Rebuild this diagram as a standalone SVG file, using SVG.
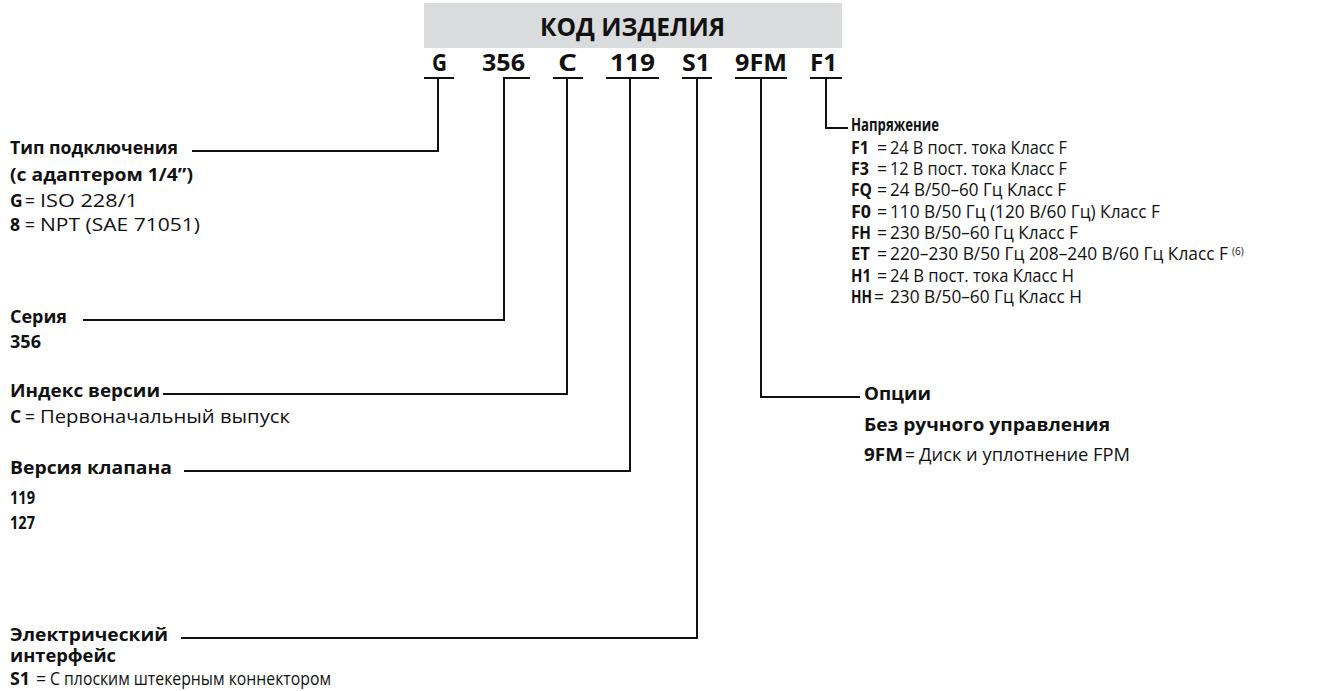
<svg xmlns="http://www.w3.org/2000/svg" width="1343" height="691" viewBox="0 0 1343 691">
<style>
text{font-family:"Open Sans","Noto Sans","Liberation Sans",sans-serif;fill:#111}
.t{font-size:25px;font-weight:bold}
.c{font-size:23px;font-weight:bold}
.b{font-size:17.5px;font-weight:bold}
.r{font-size:17.5px}
.s{font-size:10px}
.ul{stroke:#111;stroke-width:2;fill:none}
.ln{stroke:#111;stroke-width:2;fill:none}
</style>
<rect width="1343" height="691" fill="#fff"/>
<g id="header">
<rect x="424" y="3" width="418" height="45" fill="#d9dbdc"/>
<text class="t" x="540" y="36" textLength="185" lengthAdjust="spacingAndGlyphs">КОД ИЗДЕЛИЯ</text>
</g>
<g id="code-G"><text class="c" x="432" y="71" textLength="15" lengthAdjust="spacingAndGlyphs">G</text><path class="ul" d="M424 78H454"/></g>
<g id="code-356"><text class="c" x="482" y="71" textLength="43" lengthAdjust="spacingAndGlyphs">356</text><path class="ul" d="M503 78H530"/></g>
<g id="code-C"><text class="c" x="558" y="71" textLength="19" lengthAdjust="spacingAndGlyphs">C</text><path class="ul" d="M553 78H583"/></g>
<g id="code-119"><text class="c" x="610" y="71" textLength="45" lengthAdjust="spacingAndGlyphs">119</text><path class="ul" d="M606 78H659"/></g>
<g id="code-S1"><text class="c" x="682" y="71" textLength="28" lengthAdjust="spacingAndGlyphs">S1</text><path class="ul" d="M682 78H712"/></g>
<g id="code-9FM"><text class="c" x="735" y="71" textLength="52" lengthAdjust="spacingAndGlyphs">9FM</text><path class="ul" d="M735 78H787"/></g>
<g id="code-F1"><text class="c" x="810" y="71" textLength="27" lengthAdjust="spacingAndGlyphs">F1</text><path class="ul" d="M810 78H842"/></g>

<g id="connectors">
<path class="ln" d="M438 78V151H192"/>
<path class="ln" d="M504 78V320H83"/>
<path class="ln" d="M567 78V394H163"/>
<path class="ln" d="M630 78V471H184"/>
<path class="ln" d="M697 78V638H181"/>
<path class="ln" d="M761 78V397H860"/>
<path class="ln" d="M826 78V128H848"/>
</g>

<g id="conn-type">
<text class="b" x="10" y="154" textLength="168" lengthAdjust="spacingAndGlyphs">Тип подключения</text>
<text class="b" x="10" y="181" textLength="183" lengthAdjust="spacingAndGlyphs">(с адаптером 1/4”)</text>
<text class="b" x="10" y="207">G</text><text class="r" x="25" y="207">=</text><text class="r" x="40" y="207" textLength="98" lengthAdjust="spacingAndGlyphs">ISO 228/1</text>
<text class="b" x="10" y="231">8</text><text class="r" x="25" y="231">=</text><text class="r" x="40" y="231" textLength="160" lengthAdjust="spacingAndGlyphs">NPT (SAE 71051)</text>
</g>
<g id="series">
<text class="b" x="10" y="323" textLength="57" lengthAdjust="spacingAndGlyphs">Серия</text>
<text class="b" x="10" y="348" textLength="31" lengthAdjust="spacingAndGlyphs">356</text>
</g>
<g id="revision">
<text class="b" x="10" y="397" textLength="150" lengthAdjust="spacingAndGlyphs">Индекс версии</text>
<text class="b" x="10" y="423">C</text><text class="r" x="25" y="423">=</text><text class="r" x="40" y="423" textLength="250" lengthAdjust="spacingAndGlyphs">Первоначальный выпуск</text>
</g>
<g id="valve">
<text class="b" x="10" y="474" textLength="162" lengthAdjust="spacingAndGlyphs">Версия клапана</text>
<text class="b" x="10" y="504" textLength="25" lengthAdjust="spacingAndGlyphs">119</text>
<text class="b" x="10" y="529" textLength="25" lengthAdjust="spacingAndGlyphs">127</text>
</g>
<g id="electrical">
<text class="b" x="10" y="641" textLength="158" lengthAdjust="spacingAndGlyphs">Электрический</text>
<text class="b" x="10" y="662" textLength="106" lengthAdjust="spacingAndGlyphs">интерфейс</text>
<text class="b" x="10" y="685" textLength="20" lengthAdjust="spacingAndGlyphs">S1</text><text class="r" x="36" y="685">=</text><text class="r" x="50" y="685" textLength="281" lengthAdjust="spacingAndGlyphs">С плоским штекерным коннектором</text>
</g>
<g id="voltage">
<text class="b" x="851" y="131" textLength="88" lengthAdjust="spacingAndGlyphs">Напряжение</text>
<text class="b" x="851" y="154" textLength="18" lengthAdjust="spacingAndGlyphs">F1</text><text class="r" x="877" y="154">=</text><text class="r" x="890" y="154" textLength="177" lengthAdjust="spacingAndGlyphs">24 В пост. тока Класс F</text>
<text class="b" x="851" y="175" textLength="18" lengthAdjust="spacingAndGlyphs">F3</text><text class="r" x="877" y="175">=</text><text class="r" x="890" y="175" textLength="177" lengthAdjust="spacingAndGlyphs">12 В пост. тока Класс F</text>
<text class="b" x="851" y="196" textLength="21" lengthAdjust="spacingAndGlyphs">FQ</text><text class="r" x="877" y="196">=</text><text class="r" x="890" y="196" textLength="176" lengthAdjust="spacingAndGlyphs">24 В/50–60 Гц Класс F</text>
<text class="b" x="851" y="218" textLength="20" lengthAdjust="spacingAndGlyphs">F0</text><text class="r" x="877" y="218">=</text><text class="r" x="890" y="218" textLength="270" lengthAdjust="spacingAndGlyphs">110 В/50 Гц (120 В/60 Гц) Класс F</text>
<text class="b" x="851" y="239" textLength="20" lengthAdjust="spacingAndGlyphs">FH</text><text class="r" x="877" y="239">=</text><text class="r" x="890" y="239" textLength="188" lengthAdjust="spacingAndGlyphs">230 В/50–60 Гц Класс F</text>
<text class="b" x="851" y="260" textLength="19" lengthAdjust="spacingAndGlyphs">ET</text><text class="r" x="877" y="260">=</text><text class="r" x="890" y="260" textLength="338" lengthAdjust="spacingAndGlyphs">220–230 В/50 Гц 208–240 В/60 Гц Класс F</text><text class="s" x="1232" y="255">(6)</text>
<text class="b" x="851" y="282" textLength="20" lengthAdjust="spacingAndGlyphs">H1</text><text class="r" x="877" y="282">=</text><text class="r" x="890" y="282" textLength="184" lengthAdjust="spacingAndGlyphs">24 В пост. тока Класс H</text>
<text class="b" x="851" y="303" textLength="21" lengthAdjust="spacingAndGlyphs">HH</text><text class="r" x="874" y="303">=</text><text class="r" x="890" y="303" textLength="192" lengthAdjust="spacingAndGlyphs">230 В/50–60 Гц Класс H</text>
</g>
<g id="options">
<text class="b" x="864" y="400" textLength="67" lengthAdjust="spacingAndGlyphs">Опции</text>
<text class="b" x="864" y="431" textLength="246" lengthAdjust="spacingAndGlyphs">Без ручного управления</text>
<text class="b" x="864" y="461" textLength="39" lengthAdjust="spacingAndGlyphs">9FM</text><text class="r" x="905" y="461">=</text><text class="r" x="919" y="461" textLength="211" lengthAdjust="spacingAndGlyphs">Диск и уплотнение FPM</text>
</g>
</svg>
